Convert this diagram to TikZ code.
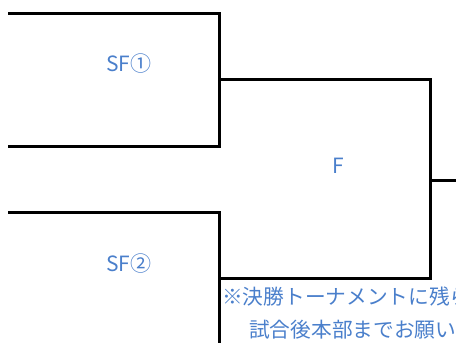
\documentclass[tikz,border=0pt]{standalone}
\usepackage{fontspec}
\setmainfont{Noto Sans CJK JP}
\definecolor{lblue}{HTML}{4A7FCB}
\tikzset{
  bracket/.style={draw=black, line width=3pt, line cap=rect},
  lbl/.style={text=lblue, inner sep=0pt, font=\fontsize{21}{21}\selectfont},
  note/.style={text=lblue, inner sep=0pt, anchor=west, font=\fontsize{20.7}{20.7}\selectfont}
}
\begin{document}
\begin{tikzpicture}[x=1pt,y=-1pt]
\useasboundingbox (0,0) rectangle (456,343);
\clip (0,0) rectangle (456,343);
% coordinates
\coordinate (a1) at (9,13);
\coordinate (a2) at (219,13);
\coordinate (a3) at (219,146);
\coordinate (a4) at (9,146);
\coordinate (b1) at (9,212);
\coordinate (b2) at (219,212);
\coordinate (b3) at (219,350);
\coordinate (f1) at (219,79);
\coordinate (f2) at (430,79);
\coordinate (f3) at (430,278);
\coordinate (f4) at (219,278);
\coordinate (fo) at (430,180);
\coordinate (out) at (460,180);
% brackets
\draw[bracket] (a1) -- (a2) -- (a3) -- (a4);
\draw[bracket] (b1) -- (b2) -- (b3);
\draw[bracket] (f1) -- (f2) -- (f3) -- (f4);
\draw[bracket] (fo) -- (out);
% labels
\node[lbl] (sf1) at (129,64) {SF①};
\node[lbl] (sf2) at (129,264) {SF②};
\node[lbl] (fin) at (338,166) {F};
\node[note] (n1) at (222,297) {※決勝トーナメントに残ら};
\node[note] (n2) at (249,330) {試合後本部までお願い};
\end{tikzpicture}
\end{document}
